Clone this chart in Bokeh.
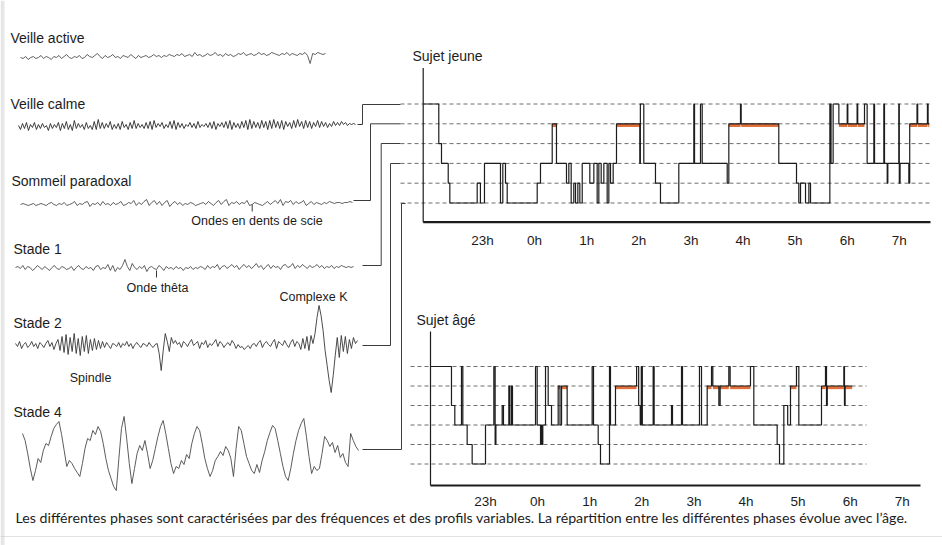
import numpy as np
from bokeh.plotting import figure
from bokeh.models import Range1d
from bokeh.core.properties import value
from bokeh.embed import file_html
from bokeh.resources import INLINE

# ---------------- data ----------------
# hypnogram levels: 0 Veille, 1 Sommeil paradoxal, 2 Stade 1, 3 Stade 2, 4 Stade 3, 5 Stade 4
levels = [0, 1, 2, 3, 4, 5]
hour_ticks = [23, 24, 25, 26, 27, 28, 29, 30, 31]
hour_labels = ["23h", "0h", "1h", "2h", "3h", "4h", "5h", "6h", "7h"]

young_times = [21.87, 22.161, 22.213, 22.342, 22.373, 22.898, 22.96, 23.038, 23.345, 23.39,
               23.441, 23.474, 24.05, 24.113, 24.338, 24.42, 24.612, 24.657, 24.702, 24.752,
               24.785, 24.83, 24.868, 24.914, 25.06, 25.137, 25.201, 25.233, 25.278, 25.329,
               25.393, 25.425, 25.457, 25.508, 25.572, 26.019, 26.03, 26.096, 26.32, 26.416,
               26.768, 27.056, 27.07, 27.184, 27.217, 27.697, 27.728, 27.952, 27.965, 28.687,
               29.027, 29.071, 29.104, 29.2, 29.264, 29.296, 29.667, 29.69, 29.73, 29.84,
               30.0, 30.012, 30.19, 30.202, 30.332, 30.383, 30.511, 30.525, 30.703, 30.716,
               30.768, 30.78, 30.99, 31.0, 31.015, 31.183, 31.2, 31.34, 31.353, 31.54,
               31.553]
young_stages = [0, 2, 3, 4, 5, 4, 5, 3, 5, 3,
                4, 5, 4, 3, 1, 3, 4, 3, 5, 4,
                5, 4, 5, 3, 4, 3, 5, 3, 4, 3,
                5, 3, 4, 3, 1, 3, 0, 3, 4, 5,
                3, 0, 3, 0, 3, 4, 1, 0, 1, 3,
                4, 5, 4, 5, 4, 5, 0, 3, 0, 1,
                0, 1, 0, 1, 0, 3, 0, 3, 0, 3,
                4, 3, 0, 4, 3, 4, 1, 0, 1, 0,
                1]
young_end = 31.575

old_times = [21.944, 22.347, 22.411, 22.539, 22.565, 22.648, 22.744, 23.0, 23.16, 23.185,
             23.2, 23.32, 23.345, 23.448, 23.467, 23.499, 23.518, 23.96, 23.992, 24.056,
             24.07, 24.085, 24.1, 24.152, 24.203, 24.267, 24.395, 24.43, 24.46, 24.567,
             25.047, 25.073, 25.163, 25.207, 25.38, 25.399, 25.495, 25.9, 25.94, 25.97,
             25.99, 26.01, 26.218, 26.237, 26.57, 26.589, 26.762, 26.781, 27.107, 27.146,
             27.255, 27.338, 27.363, 27.479, 27.504, 27.67, 27.696, 28.086, 28.15, 28.598,
             28.643, 28.726, 28.8, 28.854, 28.969, 29.014, 29.449, 29.526, 29.545, 29.56,
             29.878, 29.89, 29.903]
old_stages = [0, 2, 3, 0, 3, 4, 5, 3, 0, 4,
              3, 2, 3, 1, 3, 1, 3, 0, 3, 4,
              3, 4, 3, 0, 2, 3, 1, 3, 1, 3,
              0, 3, 4, 5, 0, 3, 1, 0, 2, 3,
              0, 3, 0, 3, 2, 3, 0, 3, 0, 3,
              1, 0, 1, 2, 1, 0, 1, 0, 3, 4,
              5, 2, 3, 1, 0, 3, 1, 0, 2, 1,
              0, 2, 1]
old_end = 30.038

eeg_labels = ["Veille active", "Veille calme", "Sommeil paradoxal", "Stade 1", "Stade 2", "Stade 4"]

eeg_veille_active = [0, -1, 1, -2, 0, 1, -1, 0, 2, -1,
                     1, 0, -2, 1, 0, 2, -1, 1, 3, 0,
                     -1, 1, 0, 2, -1, 0, 3, 1, 0, 2,
                     4, 1, -1, 2, 0, 1, 3, 0, 1, -1,
                     2, 1, 0, 3, 1, -1, 2, 0, 1, 2,
                     0, 1, 3, 1, 2, 0, 2, 1, 3, 2,
                     1, 3, 2, 4, 1, 2, 3, 1, 5, 2,
                     3, 1, 2, 4, 2, 3, 5, 2, 3, 1,
                     4, 2, 3, 1, 2, 4, 3, 5, 2, 3,
                     4, 2, 3, 5, 3, 4, 2, 3, 5, 4,
                     3, 2, 4, 3, 5, 2, 4, 3, 2, 4,
                     3, 5, 2, -6, 4, 3, 5, 4, 3, 4]

eeg_veille_calme = [1, -3, 3, -2, 4, -4, 2, -1, 4, -3,
                    2, -2, 3, -1, 1, -4, 3, -2, 2, -1,
                    4, -4, 3, -2, 5, -3, 2, -4, 6, -2,
                    3, -1, 2, -3, 4, -2, 1, -3, 5, -3,
                    7, -2, 4, -2, 3, -1, 5, -3, 2, -2,
                    3, -3, 5, -1, 2, -3, 4, -2, 6, -2,
                    3, -1, 2, -2, 4, -2, 5, -3, 6, -1,
                    3, 0, 4, -2, 2, -1, 5, -2, 6, -3,
                    4, -1, 3, -2, 2, 0, 4, -1, 3, -2,
                    5, -1, 2, 0, 3, -1, 4, -2, 5, -3,
                    3, 0, 4, -1, 5, -2, 6, -3, 4, -1,
                    3, -2, 5, -1, 6, -3, 7, -2, 5, -1,
                    4, -2, 6, -1, 5, -3, 6, -2, 7, -1,
                    5, -2, 6, -3, 5, 0, 4, -2, 6, -1,
                    7, 0, 5, -2, 6, -1, 5, -2, 4, 0,
                    6, -1, 5, 0, 4, -1, 3, 0, 5, 1,
                    4, 1, 5, 2, 4, 1, 3, 2, 3, 2]

eeg_paradoxal = [0, 1, 0, -1, 0, 1, -1, 0, 1, 0,
                 -1, 1, 2, 0, -1, 1, 0, 2, -1, 0,
                 1, 3, -1, 1, 0, 2, 3, -2, 1, 0,
                 2, -1, 3, 0, 1, -1, 2, 0, 1, 3,
                 -1, 0, 2, 1, 4, -1, 2, 0, 3, 5,
                 -1, 2, 4, 0, 3, -1, 2, 4, -2, 1,
                 3, 0, 2, -1, 1, 0, 2, 1, -1, 0,
                 1, 2, 0, 3, 1, -1, 2, 4, 0, 3,
                 5, -1, 2, 1, 3, 0, 2, 1, 4, -1,
                 0, 2, 1, 0, -1, 1, 3, 0, 2, 4,
                 1, 5, -1, 3, 2, 4, 0, 3, 1, 2,
                 4, -1, 1, 3, 0, 2, 1, 0, 2, 1,
                 3, 2, 1, 2, 2, 1, 2, 2, 3, 2]

eeg_stade1 = [1, 2, 0, 3, -1, 2, 1, -2, 0, 3,
              1, -1, 2, 0, -2, 1, 3, 0, -1, 2,
              1, -1, 0, 2, -2, 1, 3, 0, -1, 2,
              0, 1, -2, 2, 3, -1, 1, 0, 4, -2,
              3, -3, 1, -1, 3, 9, 2, -2, 5, 1,
              -1, 2, 0, 3, -3, 1, 2, 0, -1, 3,
              1, -2, 2, 0, 1, -1, 2, 0, 1, -2,
              1, 0, 2, -1, 1, 0, 2, 1, -1, 3,
              0, 2, 1, 4, -1, 2, 3, 0, 2, 4,
              1, 3, -1, 2, 4, 1, 3, 0, 2, 5,
              1, 3, -1, 2, 4, 0, 3, 1, 2, -1,
              3, 4, 1, 2, 5, 0, 3, 1, 4, 2,
              0, 3, 1, 2, 4, 1, 3, 0, 2, 1,
              3, 0, 2, 1, 3, 2, 1, 2, 1, 2]

eeg_stade2 = [2, -1, 4, -3, 1, 3, -2, 0, 4, -1, 2, -3, 3, 1, -2, 2, 5, -1, 3, -4, 2, 6,
              -5, 9, -7, 11, -9, 8, -6, 12, -8, 7, -10, 9, -6, 10, -8, 6, -5, 7, -4, 5, -3, 4,
              -2, 3, 0, -3, 2, 1, -1, 3, -2, 2, 0, 4, -1, 2, -3, 1, 3, 0, -2, 2, 1, -1, 3, 0, -2, 1, 2,
              -8, -25, -5, 12, 4, -6, 8, 2,
              5, 1, 3, -2, 4, 2, -1, 3, 6, 0, 2, 4, -3, 3, 1, 5, -2, 2, 0, 3,
              6, -1, 4, 2, -2, 1, 3, 0, 5, 2, -3, 1, -2, -1, -4, -2, 0, -3, 1, 2,
              -1, 3, 5, -2, 2, 4, 1, -1, 3, 6, -3, 4, 2, 0, 5, 1, -2, 3, 6, -1, 4, 2,
              -4, 7, -3, 9, -5, 10, 2, 12,
              28, 40, 30, 15, -5, -20, -35, -47, -30,
              -10, 8, -12, 10, -6, 9, -8, 6, -3, 8, 2, 5]

eeg_stade4 = [15, 8, -5, -20, -32, -22, -10, -14, -2, 5,
              3, 12, 20, 24, 27, 14, -2, -18, -12, -15,
              -20, -24, -28, -15, 0, 10, 8, 18, 14, 22,
              17, 5, -10, -22, -30, -38, -42, -10, 20, 32,
              10, -15, -35, -20, -5, 3, -2, 8, -5, -20,
              -12, 0, 12, 22, 28, 15, 0, -15, -25, -18,
              -20, -12, -16, -6, -10, 5, 15, 22, 18, 5,
              -10, -20, -28, -22, -12, -8, -3, -7, 2, -2,
              -10, -28, 0, 22, 18, 5, -8, -15, -22, -25,
              -16, -24, -12, -3, 8, 16, 23, 20, 8, -5,
              -18, -28, -32, -20, -5, 8, 18, 25, 30, 12,
              -8, -25, -18, -22, -20, -5, 12, 8, 2, 6,
              -4, 3, -9, -5, -14, -18, 15, 8, 2, -2]

caption = ("Les différentes phases sont caractérisées par des fréquences et des profils variables. "
           "La répartition entre les différentes phases évolue avec l\u2019âge.")

# ---------------- layout / style ----------------
W, H = 942, 545
FONT = value("Liberation Sans")
INK = "#1c1c1c"
TRACE = "#383838"
DASH = "#6e6e6e"
ORANGE = "#e2703a"

p = figure(width=W, height=H, x_range=Range1d(0, W), y_range=Range1d(H, 0),
           output_backend="svg", toolbar_location=None,
           x_axis_type=None, y_axis_type=None, min_border=0,
           outline_line_color=None, background_fill_color="white",
           border_fill_color="white")
p.grid.visible = False

# scan edge and bottom rule
p.quad(left=[0], right=[4], bottom=[H], top=[0], fill_color="#e6e6e6", line_color=None)
p.segment(x0=[0], x1=[W], y0=[536], y1=[536], line_color="#c4c4c4", line_width=1, line_dash="1 1")

# ---- hypnogram panels (pixel placement of each panel) ----
panels = {
    "young": dict(times=young_times, stages=young_stages, end=young_end, title="Sujet jeune",
                  x23=482.0, pph=52.1, y0=103.5, ppl=19.8, dash_l=400, dash_r=930,
                  ax_x=422.7, ax_top=67.5, ax_y=221.7, ax_r=930, lab_y=240, tx=412, ty=55.5),
    "old": dict(times=old_times, stages=old_stages, end=old_end, title="Sujet âgé",
                x23=485.0, pph=52.1, y0=366.0, ppl=19.5, dash_l=410, dash_r=866,
                ax_x=430.0, ax_top=331, ax_y=485.0, ax_r=920, lab_y=500.5, tx=416, ty=319.5),
}
p.extra_x_ranges = {}
p.extra_y_ranges = {}
for key, c in panels.items():
    p.extra_x_ranges[key + "_x"] = Range1d(23 - c["x23"] / c["pph"], 23 + (W - c["x23"]) / c["pph"])
    p.extra_y_ranges[key + "_y"] = Range1d((H - c["y0"]) / c["ppl"], -c["y0"] / c["ppl"])

for key, c in panels.items():
    xr, yr = key + "_x", key + "_y"
    # dashed stage levels
    p.segment(x0=[c["dash_l"]] * len(levels), x1=[c["dash_r"]] * len(levels),
              y0=levels, y1=levels, y_range_name=yr,
              line_color=DASH, line_width=1, line_dash="4 3")
    # axes
    p.segment(x0=[c["ax_x"]], x1=[c["ax_x"]], y0=[c["ax_top"]], y1=[c["ax_y"]],
              line_color=INK, line_width=1.2)
    p.segment(x0=[c["ax_x"]], x1=[c["ax_r"]], y0=[c["ax_y"]], y1=[c["ax_y"]],
              line_color=INK, line_width=2.2)
    # REM periods in orange
    t_all = c["times"] + [c["end"]]
    rem = [i for i, s in enumerate(c["stages"]) if s == 1]
    p.segment(x0=[t_all[i] for i in rem], x1=[t_all[i + 1] for i in rem],
              y0=[c["stages"][i] + 0.08 for i in rem], y1=[c["stages"][i] + 0.08 for i in rem],
              x_range_name=xr, y_range_name=yr, line_color=ORANGE, line_width=3.2)
    # hypnogram
    p.step(x=t_all, y=c["stages"] + [c["stages"][-1]], mode="after",
           x_range_name=xr, y_range_name=yr, line_color=INK, line_width=1.2)
    # hour labels
    p.text(x=hour_ticks, y=[c["lab_y"]] * len(hour_ticks), text=hour_labels,
           x_range_name=xr, text_font=FONT, text_font_size=value("13.5px"),
           text_align="center", text_baseline="middle", text_color=INK)
    p.text(x=[c["tx"]], y=[c["ty"]], text=[c["title"]], text_font=FONT,
           text_font_size=value("14px"), text_align="left", text_baseline="middle",
           text_color=INK)

# ---- EEG traces ----
traces = [
    dict(vals=eeg_veille_active, x0=20, x1=325, base=57, lx=10, ly=37, w=0.8, col=TRACE),
    dict(vals=eeg_veille_calme, x0=18, x1=355, base=126, lx=10, ly=103, w=0.9, col="#2a2a2a"),
    dict(vals=eeg_paradoxal, x0=20, x1=352, base=204, lx=11, ly=180, w=0.8, col=TRACE),
    dict(vals=eeg_stade1, x0=15, x1=353, base=268, lx=13, ly=248, w=0.8, col=TRACE),
    dict(vals=eeg_stade2, x0=15, x1=357, base=345, lx=13, ly=322, w=0.9, col=TRACE),
    dict(vals=eeg_stade4, x0=22, x1=358, base=448, lx=13, ly=411, w=0.9, col="#4a4a4a"),
]
for i, (lab, tr) in enumerate(zip(eeg_labels, traces)):
    rn = "eeg%d" % i
    p.extra_y_ranges[rn] = Range1d(tr["base"] - H, tr["base"])
    xs = np.linspace(tr["x0"], tr["x1"], len(tr["vals"]))
    p.line(x=xs, y=tr["vals"], y_range_name=rn, line_color=tr["col"], line_width=tr["w"])
    p.text(x=[tr["lx"]], y=[tr["ly"]], text=[lab], text_font=FONT,
           text_font_size=value("14px"), text_align="left", text_baseline="middle",
           text_color=INK)

# annotations on traces
p.segment(x0=[251.7, 156], x1=[251.7, 156], y0=[204, 270], y1=[211, 277],
          line_color=TRACE, line_width=1)
p.text(x=[256.5, 157, 313, 90], y=[220, 287.5, 296, 377],
       text=["Ondes en dents de scie", "Onde thêta", "Complexe K", "Spindle"],
       text_font=FONT, text_font_size=value("12.5px"), text_align="center",
       text_baseline="middle", text_color=INK)

# leader lines from traces to the young subject's stage levels
p.multi_line(xs=[[357, 362, 362, 400], [353, 370, 370, 400], [362, 380.7, 380.7, 400],
                 [362, 390, 390, 400], [362, 401, 401, 405]],
             ys=[[124, 124, 104, 104], [200, 200, 123.3, 123.3], [265, 265, 143, 143],
                 [345, 345, 163, 163], [449, 449, 203, 203]],
             line_color="#3c3c3c", line_width=1)

# caption
p.text(x=[15], y=[517], text=[caption], text_font=value("Lato"),
       text_font_size=value("14.2px"), text_align="left", text_baseline="middle",
       text_color=INK)

open("out.html", "w").write(file_html(p, INLINE))
